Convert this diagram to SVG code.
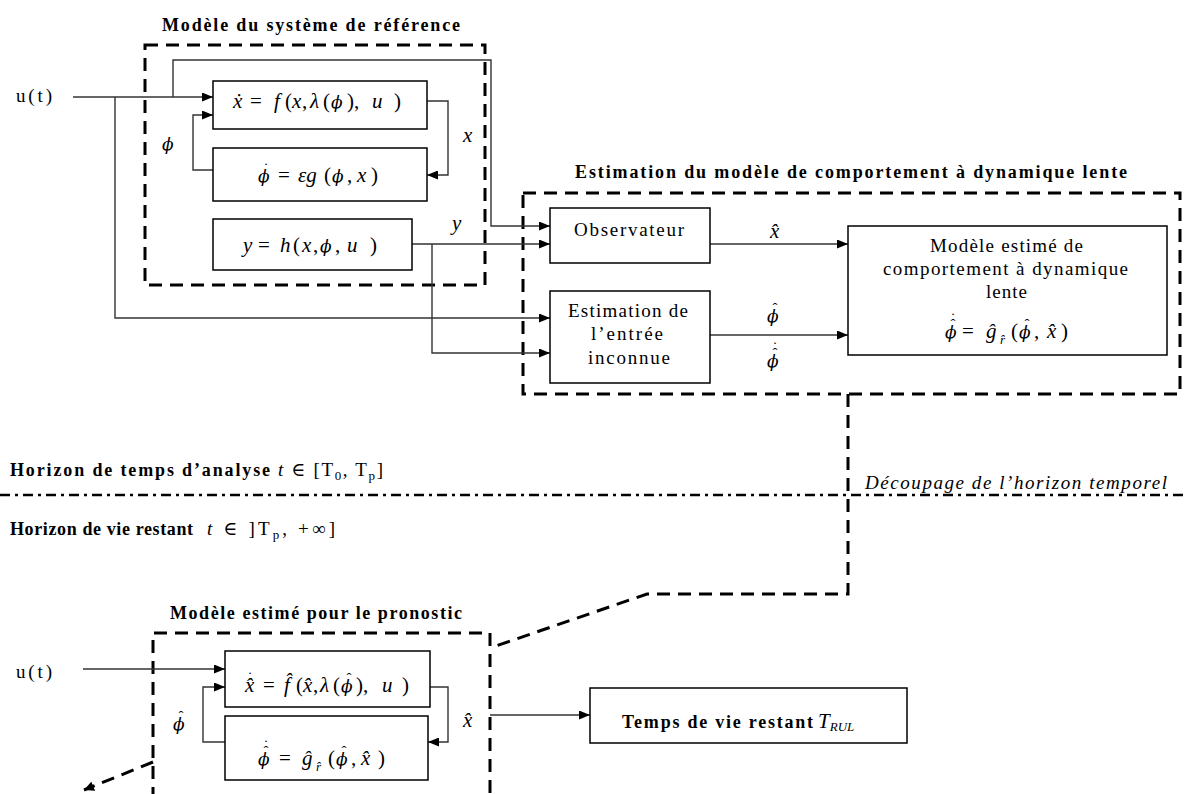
<svg xmlns="http://www.w3.org/2000/svg" width="1184" height="794" viewBox="0 0 1184 794">
<style>
.dash{fill:none;stroke:#000;stroke-width:3;stroke-dasharray:13 8}
.box{fill:#fff;stroke:#000;stroke-width:1.5}
.wire{fill:none;stroke:#333;stroke-width:1.4}
.t{font-family:"Liberation Serif","DejaVu Serif",serif;font-size:19px;fill:#000}
.b{font-weight:bold;font-size:18px}
.i{font-style:italic}
.m{font-family:"Liberation Serif","DejaVu Serif",serif;font-style:italic;font-size:21px;fill:#000}
.d{font-family:"DejaVu Serif",serif;font-size:17px}
.n{font-style:normal}
.s{font-size:13px}
.acc{font-family:"Liberation Serif","DejaVu Serif",serif;font-size:15px;text-anchor:middle;fill:#000}
</style>
<defs>
<marker id="ah" markerWidth="11" markerHeight="9" refX="11" refY="4.5" orient="auto" markerUnits="userSpaceOnUse">
<path d="M0,0 L11,4.5 L0,9 z" fill="#000"/>
</marker>
<marker id="ah2" markerWidth="12" markerHeight="10" refX="10" refY="5" orient="auto" markerUnits="userSpaceOnUse">
<path d="M0,0 L10,5 L0,10 z" fill="#000"/>
</marker>
</defs>
<rect width="1184" height="794" fill="#fff"/>

<!-- horizon separator -->
<g id="horizon">
<line x1="0" y1="495" x2="1184" y2="495" stroke="#000" stroke-width="2.5" stroke-dasharray="10 5 3 5"/>
<text class="t b" x="10" y="476" textLength="260" lengthAdjust="spacing">Horizon de temps d’analyse</text>
<text class="t" x="278" y="476" textLength="105" lengthAdjust="spacing"><tspan class="i">t</tspan> ∈ [T<tspan class="s" dy="4">0</tspan><tspan dy="-4">, T</tspan><tspan class="s" dy="4">p</tspan><tspan dy="-4">]</tspan></text>
<text class="t b" x="10" y="535" textLength="183" lengthAdjust="spacing">Horizon de vie restant</text>
<text class="t" x="207" y="535" textLength="128" lengthAdjust="spacing"><tspan class="i">t</tspan> ∈ ]T<tspan class="s" dy="4">p</tspan><tspan dy="-4">, +∞]</tspan></text>
<text class="t i" x="865" y="489" font-size="16" textLength="302" lengthAdjust="spacing">Découpage de l’horizon temporel</text>
</g>

<!-- group frames -->
<g id="ref-system">
<rect class="dash" x="145" y="45" width="340" height="240"/>
<text class="t b" x="162" y="31" textLength="298" lengthAdjust="spacing">Modèle du système de référence</text>
</g>
<g id="estimation">
<rect class="dash" x="523" y="193" width="657" height="201"/>
<text class="t b" x="575" y="178" textLength="552" lengthAdjust="spacing">Estimation du modèle de comportement à dynamique lente</text>
</g>
<g id="pronostic">
<path class="dash" d="M153,800 V633 H490 V800"/>
<text class="t b" x="170" y="619" textLength="292" lengthAdjust="spacing">Modèle estimé pour le pronostic</text>
</g>

<!-- connectors -->
<g id="connectors">
<path class="wire" d="M73,97 H213" marker-end="url(#ah)"/>
<path class="wire" d="M115,97 V318 H550" marker-end="url(#ah)"/>
<path class="wire" d="M173,97 V60 H491 V226 H550" marker-end="url(#ah)"/>
<path class="wire" d="M427,101 H448 V175 H427" marker-end="url(#ah)"/>
<path class="wire" d="M213,170 H193 V115 H213" marker-end="url(#ah)"/>
<path class="wire" d="M412,244 H550" marker-end="url(#ah)"/>
<path class="wire" d="M432,244 V353 H550" marker-end="url(#ah)"/>
<path class="wire" d="M710,244 H848" marker-end="url(#ah)"/>
<path class="wire" d="M710,335 H848" marker-end="url(#ah)"/>
<path class="wire" d="M83,669 H225" marker-end="url(#ah)"/>
<path class="wire" d="M430,687 H448 V742 H428" marker-end="url(#ah)"/>
<path class="wire" d="M225,742 H203 V687 H225" marker-end="url(#ah)"/>
<path class="wire" d="M490,715 H590" marker-end="url(#ah)"/>
<path class="dash" d="M848,394 V594 H647 L490,648"/>
<path class="dash" d="M153,762 L84,790" marker-end="url(#ah2)"/>
<text class="t" x="16" y="102" textLength="36" lengthAdjust="spacing">u(t)</text>
<text class="t" x="16" y="678" textLength="36" lengthAdjust="spacing">u(t)</text>
<text class="m" x="463" y="142">x</text>
<text class="m" x="162" y="150"><tspan class="d">ϕ</tspan></text>
<text class="m" x="452" y="230">y</text>
<text class="m" x="770" y="238">x̂</text>
<text class="m" x="767" y="322"><tspan class="d">ϕ</tspan></text>
<text class="acc" x="775" y="313">ˆ</text>
<text class="m" x="767" y="367"><tspan class="d">ϕ</tspan></text>
<text class="acc" x="775" y="358">ˆ</text>
<text class="acc" x="775" y="352">˙</text>
<text class="m" x="173" y="730"><tspan class="d">ϕ</tspan></text>
<text class="acc" x="181" y="721">ˆ</text>
<text class="m" x="463" y="727">x̂</text>
</g>

<!-- nodes -->
<g id="f">
<rect class="box" x="213" y="81" width="214" height="48"/>
<text class="m" y="108"><tspan x="233">ẋ</tspan><tspan class="n" x="250">=</tspan><tspan x="274">f</tspan><tspan class="n" x="285">(</tspan><tspan x="292">x</tspan><tspan class="n" x="302">,</tspan><tspan x="310">λ</tspan><tspan class="n" x="323">(</tspan><tspan class="d" x="331">ϕ</tspan><tspan class="n" x="347">)</tspan><tspan class="n" x="354">,</tspan><tspan x="372">u</tspan><tspan class="n" x="394">)</tspan></text>
</g>
<g id="g">
<rect class="box" x="213" y="148" width="214" height="53"/>
<text class="m" y="182"><tspan class="d" x="258">ϕ</tspan><tspan class="n" x="278">=</tspan><tspan x="298">εg</tspan><tspan class="n" x="324">(</tspan><tspan class="d" x="332">ϕ</tspan><tspan class="n" x="347">,</tspan><tspan x="357">x</tspan><tspan class="n" x="371">)</tspan></text>
<text class="acc" x="266" y="173">˙</text>
</g>
<g id="h">
<rect class="box" x="213" y="219" width="199" height="51"/>
<text class="m" y="252"><tspan x="243">y</tspan><tspan class="n" x="258">=</tspan><tspan x="280">h</tspan><tspan class="n" x="293">(</tspan><tspan x="302">x</tspan><tspan class="n" x="313">,</tspan><tspan class="d" x="320">ϕ</tspan><tspan class="n" x="335">,</tspan><tspan x="347">u</tspan><tspan class="n" x="370">)</tspan></text>
</g>
<g id="observateur">
<rect class="box" x="550" y="208" width="160" height="55"/>
<text class="t" x="574" y="236" textLength="110" lengthAdjust="spacing">Observateur</text>
</g>
<g id="estim-entree">
<rect class="box" x="550" y="291" width="160" height="92"/>
<text class="t" x="568" y="317" textLength="120" lengthAdjust="spacing">Estimation de</text>
<text class="t" x="591" y="340" textLength="72" lengthAdjust="spacing">l’entrée</text>
<text class="t" x="588" y="364" textLength="82" lengthAdjust="spacing">inconnue</text>
</g>
<g id="modele-estime">
<rect class="box" x="848" y="226" width="319" height="129"/>
<text class="t" x="930" y="252" textLength="153" lengthAdjust="spacing">Modèle estimé de</text>
<text class="t" x="883" y="275" textLength="245" lengthAdjust="spacing">comportement à dynamique</text>
<text class="t" x="986" y="298" textLength="41" lengthAdjust="spacing">lente</text>
<text class="m" y="338"><tspan class="d" x="945">ϕ</tspan><tspan class="n" x="962">=</tspan><tspan x="986">ĝ</tspan><tspan class="s" x="1000" y="344">r̂</tspan><tspan class="n" x="1011" y="338">(</tspan><tspan class="d" x="1019">ϕ</tspan><tspan class="n" x="1034">,</tspan><tspan x="1047">x̂</tspan><tspan class="n" x="1061">)</tspan></text>
<text class="acc" x="953" y="329">ˆ</text>
<text class="acc" x="953" y="323">˙</text>
<text class="acc" x="1027" y="329">ˆ</text>
</g>
<g id="f-hat">
<rect class="box" x="225" y="651" width="205" height="56"/>
<text class="m" y="692"><tspan x="245">x̂</tspan><tspan class="n" x="263">=</tspan><tspan x="284">f̂</tspan><tspan class="n" x="296">(</tspan><tspan x="303">x̂</tspan><tspan class="n" x="313">,</tspan><tspan x="320">λ</tspan><tspan class="n" x="333">(</tspan><tspan class="d" x="341">ϕ</tspan><tspan class="n" x="356">)</tspan><tspan class="n" x="363">,</tspan><tspan x="382">u</tspan><tspan class="n" x="402">)</tspan></text>
<text class="acc" x="250" y="682">˙</text>
<text class="acc" x="349" y="683">ˆ</text>
</g>
<g id="g-hat">
<rect class="box" x="225" y="716" width="203" height="64"/>
<text class="m" y="765"><tspan class="d" x="258">ϕ</tspan><tspan class="n" x="279">=</tspan><tspan x="302">ĝ</tspan><tspan class="s" x="316" y="771">r̂</tspan><tspan class="n" x="328" y="765">(</tspan><tspan class="d" x="336">ϕ</tspan><tspan class="n" x="351">,</tspan><tspan x="361">x̂</tspan><tspan class="n" x="378">)</tspan></text>
<text class="acc" x="266" y="756">ˆ</text>
<text class="acc" x="266" y="750">˙</text>
<text class="acc" x="344" y="756">ˆ</text>
</g>
<g id="rul">
<rect class="box" x="590" y="688" width="317" height="55"/>
<text class="t b" x="622" y="728" textLength="191" lengthAdjust="spacing">Temps de vie restant</text>
<text class="m" x="818" y="728">T<tspan class="s" dy="3">RUL</tspan></text>
</g>
</svg>
